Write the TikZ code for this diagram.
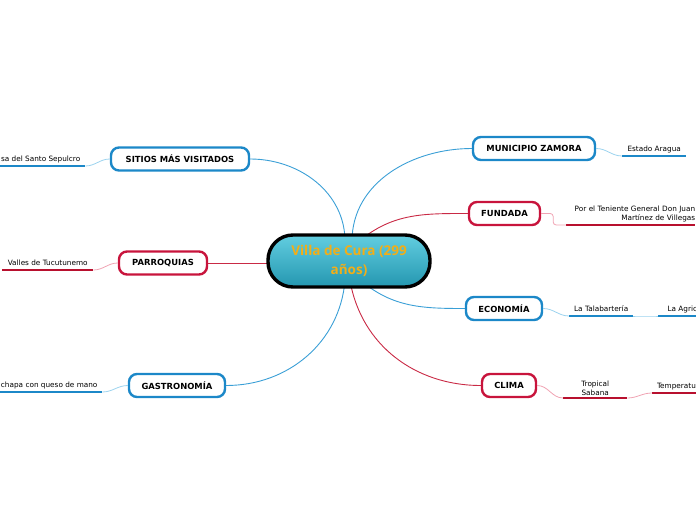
\documentclass[tikz,border=0pt]{standalone}
\usepackage{fontspec}
\setmainfont{DejaVu Sans}
\newfontfamily\titlefont{Open Sans}
\usetikzlibrary{backgrounds}
\definecolor{nblue}{HTML}{1C88C8}
\definecolor{nred}{HTML}{C8143C}
\definecolor{cblue}{HTML}{3A9FD6}
\definecolor{cred}{HTML}{C92A45}
\definecolor{lblue}{HTML}{9BD3EE}
\definecolor{lred}{HTML}{F0A3B3}
\definecolor{ublue}{HTML}{1C88C8}
\definecolor{ured}{HTML}{B8102E}
\definecolor{ttext}{HTML}{F2AE18}
\definecolor{tTop}{HTML}{62CDE0}
\definecolor{tBot}{HTML}{2497B0}
\begin{document}
\begin{tikzpicture}[x=1pt,y=1pt,
  central/.style={draw=black, line width=3.4pt, rounded corners=25pt, top color=tTop, bottom color=tBot,
    minimum width=162pt, minimum height=52pt, inner sep=0pt, align=center, text=ttext,
    font=\titlefont\fontsize{13.5}{19}\selectfont\bfseries},
  topic/.style={draw, fill=white, line width=2.4pt, rounded corners=8pt, minimum height=23pt, inner sep=0pt,
    font=\fontsize{8.4}{10}\selectfont\bfseries},
  bluetopic/.style={topic, draw=nblue},
  redtopic/.style={topic, draw=nred},
  sub/.style={anchor=south west, inner xsep=0pt, inner ysep=2.6pt, font=\fontsize{7.3}{9}\selectfont,
    text height=5.4pt, text depth=1.6pt, align=center},
  subtwo/.style={anchor=south west, inner xsep=0pt, inner ysep=2.6pt, font=\fontsize{7.3}{9}\selectfont},
  cb/.style={draw=cblue, line width=0.9pt},
  cr/.style={draw=cred, line width=0.9pt},
  lb/.style={draw=lblue, line width=0.8pt},
  lr/.style={draw=lred, line width=0.8pt},
  ub/.style={draw=ublue, line width=1.3pt},
  ur/.style={draw=ured, line width=1.3pt}
]
\useasboundingbox (0,0) rectangle (696,520);
\clip (0,0) rectangle (696,520);

% central
\node[central] (cura) at (349,259) {Villa de Cura (299\\años)};

% main topics
\node[bluetopic, minimum width=138pt] (sitios) at (180,361) {SITIOS MÁS VISITADOS};
\node[bluetopic, minimum width=122pt] (municipio) at (534,371.5) {MUNICIPIO ZAMORA};
\node[redtopic, minimum width=71pt] (fundada) at (504.5,306.5) {FUNDADA};
\node[redtopic, minimum width=88pt] (parroquias) at (163,257) {PARROQUIAS};
\node[bluetopic, minimum width=76pt] (economia) at (504,211.5) {ECONOMÍA};
\node[redtopic, minimum width=54pt] (clima) at (509,134.5) {CLIMA};
\node[bluetopic, minimum width=96pt] (gastro) at (177,134.5) {GASTRONOMÍA};

% subtopics
\node[sub, minimum width=64pt] (estado) at (622,364) {Estado Aragua};
\node[subtwo, text width=129pt, align=right] (fundsub) at (566,295) {Por el Teniente General Don Juan\\Martínez de Villegas};
\node[sub, minimum width=91pt] (valles) at (2,250) {Valles de Tucutunemo};
\node[sub, minimum width=89pt] (sitiosub) at (-4,354) {sa del Santo Sepulcro};
\node[sub, minimum width=106pt] (gastrosub) at (-4,128) {chapa con queso de mano};
\node[sub, minimum width=64pt] (talab) at (569,204) {La Talabartería};
\node[sub, minimum width=70pt] (agric) at (658,204) {La Agricultura};
\node[subtwo, minimum width=64pt, align=center] (tropical) at (563,122) {Tropical\\Sabana};
\node[sub, minimum width=56pt] (temper) at (652,127) {Temperatura};

% underlines
\foreach \n in {estado,sitiosub,gastrosub,talab,agric}
  \draw[ub] (\n.south west) -- (\n.south east);
\foreach \n in {fundsub,valles,tropical,temper}
  \draw[ur] (\n.south west) -- (\n.south east);

\begin{scope}[on background layer]
  \draw[cb] (sitios.east) to[out=0,in=90] ([xshift=-4pt,yshift=-8pt]cura.north);
  \draw[cb] (municipio.west) to[out=180,in=90] ([xshift=3pt,yshift=-8pt]cura.north);
  \draw[cr] (fundada.west) to[out=180,in=40] ([xshift=10pt,yshift=-8pt]cura.north);
  \draw[cr] (parroquias.east) -- (parroquias.east -| cura.center);
  \draw[cb] (economia.west) to[out=180,in=-40] ([xshift=12pt,yshift=8pt]cura.south);
  \draw[cr] (clima.west) to[out=180,in=-80] ([xshift=1pt,yshift=8pt]cura.south);
  \draw[cb] (gastro.east) to[out=0,in=-95] ([xshift=-4pt,yshift=8pt]cura.south);
\end{scope}

% sub connectors
\draw[lb] (municipio.east) to[out=0,in=180] (estado.south west);
\draw[lr, rounded corners=3pt] (fundada.east) -- ++(12pt,0) |- (fundsub.south west);
\draw[lr] (parroquias.west) to[out=180,in=0] (valles.south east);
\draw[lb] (sitios.west) to[out=180,in=0] (sitiosub.south east);
\draw[lb] (gastro.west) to[out=180,in=0] (gastrosub.south east);
\draw[lb] (economia.east) to[out=0,in=180] (talab.south west);
\draw[lb] (talab.south east) to[out=0,in=180] (agric.south west);
\draw[lr] (clima.east) to[out=0,in=180] (tropical.south west);
\draw[lr] (tropical.south east) to[out=0,in=180] (temper.south west);
\end{tikzpicture}
\end{document}
